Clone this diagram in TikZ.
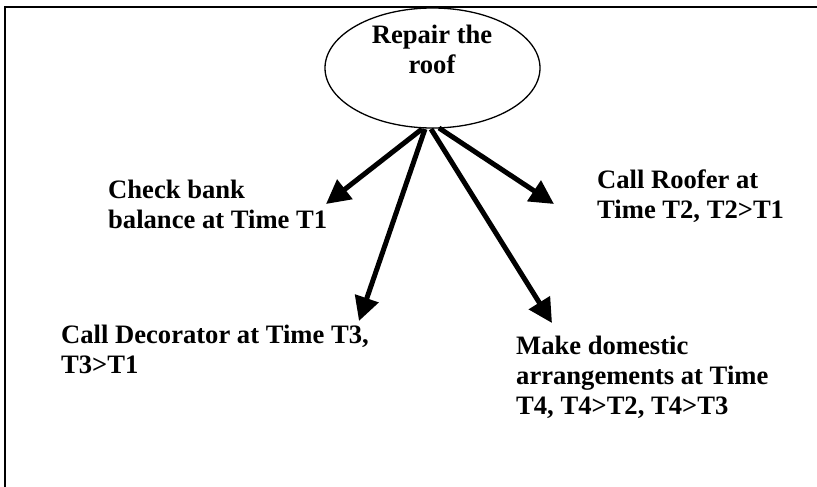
\documentclass[tikz,border=0pt]{standalone}
\usepackage{fontspec}
\setmainfont{Liberation Serif}
\usetikzlibrary{arrows.meta,shapes.geometric}
\begin{document}
\begin{tikzpicture}[x=1pt,y=-1pt,
  lbl/.style={anchor=base west,align=left,inner sep=0pt,font=\fontsize{26.6}{30}\selectfont\bfseries},
  arr/.style={line width=5pt,-{Triangle[length=24pt,width=24pt]}},
  frameline/.style={line width=2.6pt}]
\useasboundingbox (0,0) rectangle (817,487);
\draw[frameline] (5,487) -- (5,7) -- (817,7);
\node[draw,ellipse,line width=1.3pt,minimum width=215pt,minimum height=120pt,inner sep=0pt] (root) at (432.5,68) {};
\node[anchor=base,align=center,inner sep=0pt,font=\fontsize{26.6}{30}\selectfont\bfseries] (roottext) at (432,74) {Repair the\\roof};
\node[lbl] (bank) at (108,228) {Check bank\\balance at Time T1};
\node[lbl] (roofer) at (597,218) {Call Roofer at\\Time T2, T2>T1};
\node[lbl] (deco) at (61,373) {Call Decorator at Time T3,\\T3>T1};
\node[lbl] (dom) at (516,414) {Make domestic\\arrangements at Time\\T4, T4>T2, T4>T3};
\coordinate (s1) at (422,129);
\coordinate (s2) at (425,129);
\coordinate (s3) at (431,129);
\coordinate (s4) at (439,128);
\coordinate (e1) at (326,204);
\coordinate (e2) at (359,321);
\coordinate (e3) at (552,323);
\coordinate (e4) at (554,204);
\draw[arr] (s1) -- (e1);
\draw[arr] (s2) -- (e2);
\draw[arr] (s3) -- (e3);
\draw[arr] (s4) -- (e4);
\end{tikzpicture}
\end{document}
